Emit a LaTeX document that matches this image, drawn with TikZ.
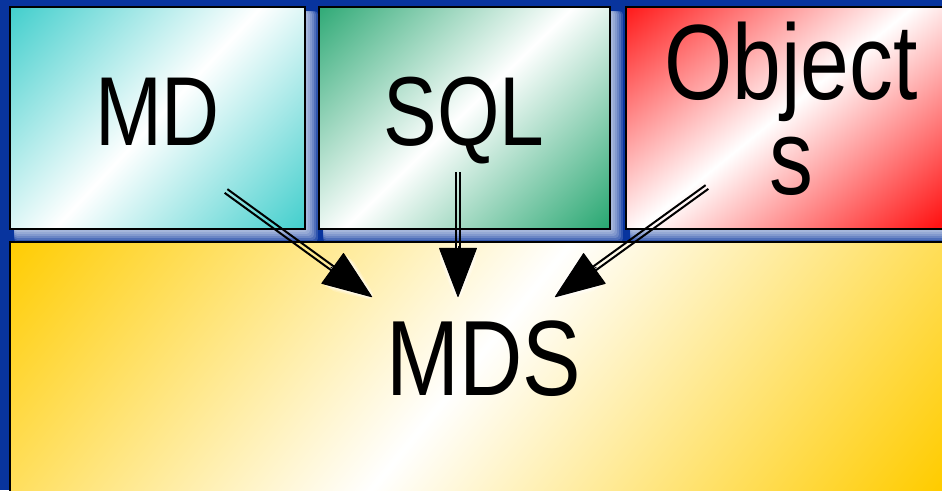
\documentclass[tikz,border=0pt]{standalone}
\usepackage{fontspec}
\usepackage{tikz}
\usetikzlibrary{arrows.meta, calc, backgrounds}
\newfontfamily\boxfont[FakeStretch=0.82]{Liberation Sans}

\definecolor{bgblue}{RGB}{8,52,158}
\definecolor{mdcyan}{RGB}{64,206,204}
\definecolor{sqlgreen}{RGB}{38,166,112}
\definecolor{objred}{RGB}{255,20,20}
\definecolor{mdsyellow}{RGB}{255,204,0}

\tikzset{
    panel/.style={draw=black, line width=1.6pt, inner sep=0pt, fill=#1},
    gloss/.style n args={4}{path picture={
        \coordinate (gc) at ([shift={(#3,0)}]path picture bounding box.center);
        \shade[left color=#1, right color=#1, middle color=white,
               transform canvas={rotate around={#2:(gc)}}]
            ([shift={(-#4,-700)}]gc) rectangle ([shift={(#4,700)}]gc);
    }},
    boxtext/.style={inner sep=0pt, anchor=base, text=black},
    rail/.style={line width=2pt, black, shorten >=44pt},
    head/.style={-{Triangle[length=50pt 0 0, width=38pt 0 0, round]}}
}

\begin{document}
\begin{tikzpicture}[x=1pt, y=-1pt]
    \useasboundingbox (0,0) rectangle (942,490);
    \clip (0,0) rectangle (942,490);

    % Boxes
    \node[panel=mdcyan, gloss={mdcyan}{-43}{0}{185}, minimum width=295pt, minimum height=222pt] (md) at (157.5,118) {};
    \node[panel=sqlgreen, gloss={sqlgreen}{-46}{-6}{185}, minimum width=291pt, minimum height=222pt] (sql) at (464.5,118) {};
    \node[panel=objred, gloss={objred}{-51}{-16}{185}, minimum width=332pt, minimum height=222pt] (obj) at (792,118) {};
    \node[panel=mdsyellow, gloss={mdsyellow}{-39}{-62}{440}, minimum width=990pt, minimum height=318pt] (mds) at (505,401) {};

    % Blue ground and glow round the boxes
    \begin{scope}[on background layer]
        \fill[bgblue] (0,0) rectangle (942,490);
        \foreach \b in {md,sql,obj}
            \foreach \k in {2,4,...,12}
                \fill[white, opacity=0.16, rounded corners=3pt] ([shift={(5,5)}]\b.north west) rectangle ([shift={(\k,\k)}]\b.south east);
    \end{scope}

    % Texts
    \node[boxtext, font=\boxfont\fontsize{98}{98}\selectfont] (mdtext) at (157.5,145) {MD};
    \node[boxtext, font=\boxfont\fontsize{98}{98}\selectfont] (sqltext) at (464,145) {SQL};
    \node[boxtext, font=\boxfont\fontsize{107}{95}\selectfont, align=center] (objtext) at (791,194) {Object\\s};
    \node[boxtext, font=\boxfont\fontsize{107}{107}\selectfont] (mdstext) at (484,395) {MDS};

    % Arrows
    \coordinate (md-tail) at (226,191);
    \coordinate (md-tip) at (372,297);
    \coordinate (sql-tail) at (458,172);
    \coordinate (sql-tip) at (458,297);
    \coordinate (obj-tail) at (707,187);
    \coordinate (obj-tip) at (555,297);
    \foreach \a/\px/\py/\qx/\qy in {md/-1.35/1.86/1.35/-1.86, sql/2.3/0/-2.3/0, obj/1.35/1.86/-1.35/-1.86} {
        \foreach \w/\o in {10/0.2, 7/0.3, 4/0.45}
            \draw[head, white, opacity=\o, line width=\w pt] ($(\a-tip)!51pt!(\a-tail)$) -- (\a-tip);
        \draw[head, black, line width=1pt] ($(\a-tip)!51pt!(\a-tail)$) -- (\a-tip);
        \draw[rail] ([shift={(\px,\py)}]\a-tail) -- ([shift={(\px,\py)}]\a-tip);
        \draw[rail] ([shift={(\qx,\qy)}]\a-tail) -- ([shift={(\qx,\qy)}]\a-tip);
    }
\end{tikzpicture}
\end{document}
